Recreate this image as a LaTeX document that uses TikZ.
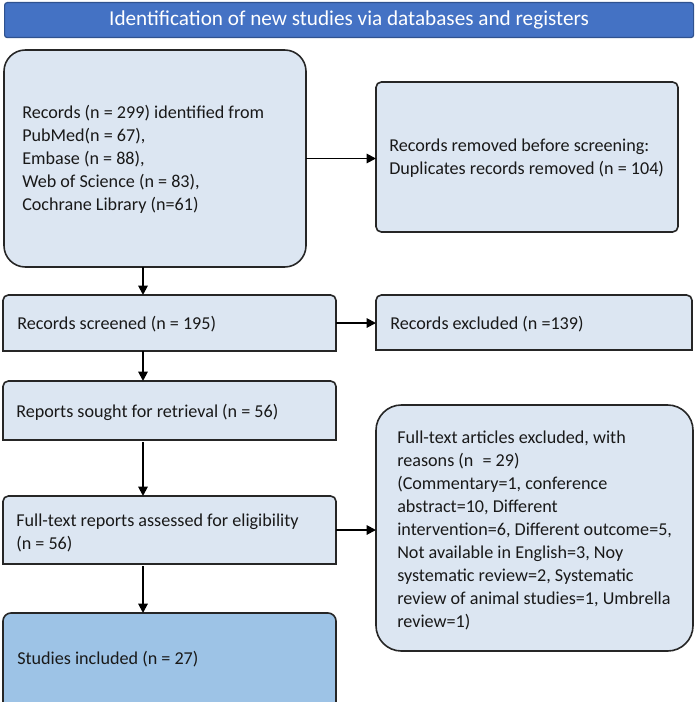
\documentclass[tikz,border=0pt]{standalone}
\usepackage{fontspec}
\setmainfont{Carlito}
\usetikzlibrary{arrows.meta}
\definecolor{hdr}{HTML}{4472C4}
\definecolor{hdredge}{HTML}{2F528F}
\definecolor{lb}{HTML}{DCE6F2}
\definecolor{mb}{HTML}{9DC3E6}
\definecolor{edge}{HTML}{262626}
\newcommand{\toprnd}[3]{%
  \draw[frame, fill=#3] (#1.south west) -- ([yshift=-#2]#1.north west)
    arc[start angle=180,end angle=90,radius=#2] -- ([xshift=-#2]#1.north east)
    arc[start angle=90,end angle=0,radius=#2] -- (#1.south east) -- cycle;}
\begin{document}
\begin{tikzpicture}[x=0.75pt,y=-0.75pt,
  boxshape/.style={draw=none, fill=none, inner sep=0pt, outer sep=0pt, anchor=north west},
  txt/.style={font=\fontsize{13.6}{17.25}\selectfont, align=left, anchor=west, inner sep=0pt, text=black!90},
  frame/.style={draw=edge, line width=1.2pt},
  arr/.style={draw=black, line width=1.4pt, -{Triangle[length=7pt,width=7pt]}}]
\useasboundingbox (0,0) rectangle (695,702);

% header
\node[anchor=north west, minimum width=516.75pt, minimum height=26.25pt, inner sep=0pt,
      fill=hdr, draw=hdredge, line width=0.9pt, rounded corners=2pt, text=white,
      font=\fontsize{15.9}{18}\selectfont] (h) at (4,2) {Identification of new studies via databases and registers};

% box shapes
\node[boxshape, minimum width=226.5pt, minimum height=162.75pt] (b1) at (4,50) {};
\node[boxshape, minimum width=226.5pt, minimum height=112.5pt] (b2) at (376,82) {};
\node[boxshape, minimum width=249.75pt, minimum height=42pt] (b3) at (3,295) {};
\node[boxshape, minimum width=237pt, minimum height=41.25pt] (b4) at (376,295) {};
\node[boxshape, minimum width=249.75pt, minimum height=44.25pt] (b5) at (3,381) {};
\node[boxshape, minimum width=249.75pt, minimum height=51pt] (b6) at (3,496) {};
\node[boxshape, minimum width=249.75pt, minimum height=69pt] (b7) at (3,613) {};
\node[boxshape, minimum width=237.75pt, minimum height=184.5pt] (b8) at (376,405) {};

\draw[frame, fill=lb, rounded corners=16pt] (b1.south west) rectangle (b1.north east);
\draw[frame, fill=lb, rounded corners=4pt] (b2.south west) rectangle (b2.north east);
\toprnd{b3}{4pt}{lb}
\toprnd{b4}{4pt}{lb}
\toprnd{b5}{4pt}{lb}
\toprnd{b6}{4pt}{lb}
\toprnd{b7}{6pt}{mb}
\draw[frame, fill=lb, rounded corners=19pt] (b8.south west) rectangle (b8.north east);

% texts
\node[txt] (t1) at (22,159) {Records (n = 299) identified from\\PubMed(n = 67),\\Embase (n = 88),\\Web of Science (n = 83),\\Cochrane Library (n=61)};
\node[txt] (t2) at (389,158) {Records removed before screening:\\Duplicates records removed (n = 104)};
\node[txt] (t3) at (17,324) {Records screened (n = 195)};
\node[txt] (t4) at (390,324) {Records excluded (n =139)};
\node[txt] (t5) at (16,412) {Reports sought for retrieval (n = 56)};
\node[txt] (t6) at (16,533) {Full-text reports assessed for eligibility\\(n = 56)};
\node[txt] (t7) at (17,659) {Studies included (n = 27)};
\node[txt] (t8) at (397,530) {Full-text articles excluded, with\\reasons (n\enspace= 29)\\(Commentary=1, conference\\abstract=10, Different\\intervention=6, Different outcome=5,\\Not available in English=3, Noy\\systematic review=2, Systematic\\review of animal studies=1, Umbrella\\review=1)};

% connectors
\coordinate (ax) at (143,0);
\draw[arr] (b1.south -| ax) -- (b3.north -| ax);
\draw[arr] (b3.south -| ax) -- (b5.north -| ax);
\draw[arr] ([yshift=-1.5pt]b5.south -| ax) -- (b6.north -| ax);
\draw[arr] ([yshift=-1.5pt]b6.south -| ax) -- (b7.north -| ax);
\draw[arr] (b1.east) -- (b1.east -| b2.west);
\draw[arr] (b3.east) -- (b3.east -| b4.west);
\draw[arr] (b6.east) -- (b6.east -| b8.west);
\end{tikzpicture}
\end{document}
